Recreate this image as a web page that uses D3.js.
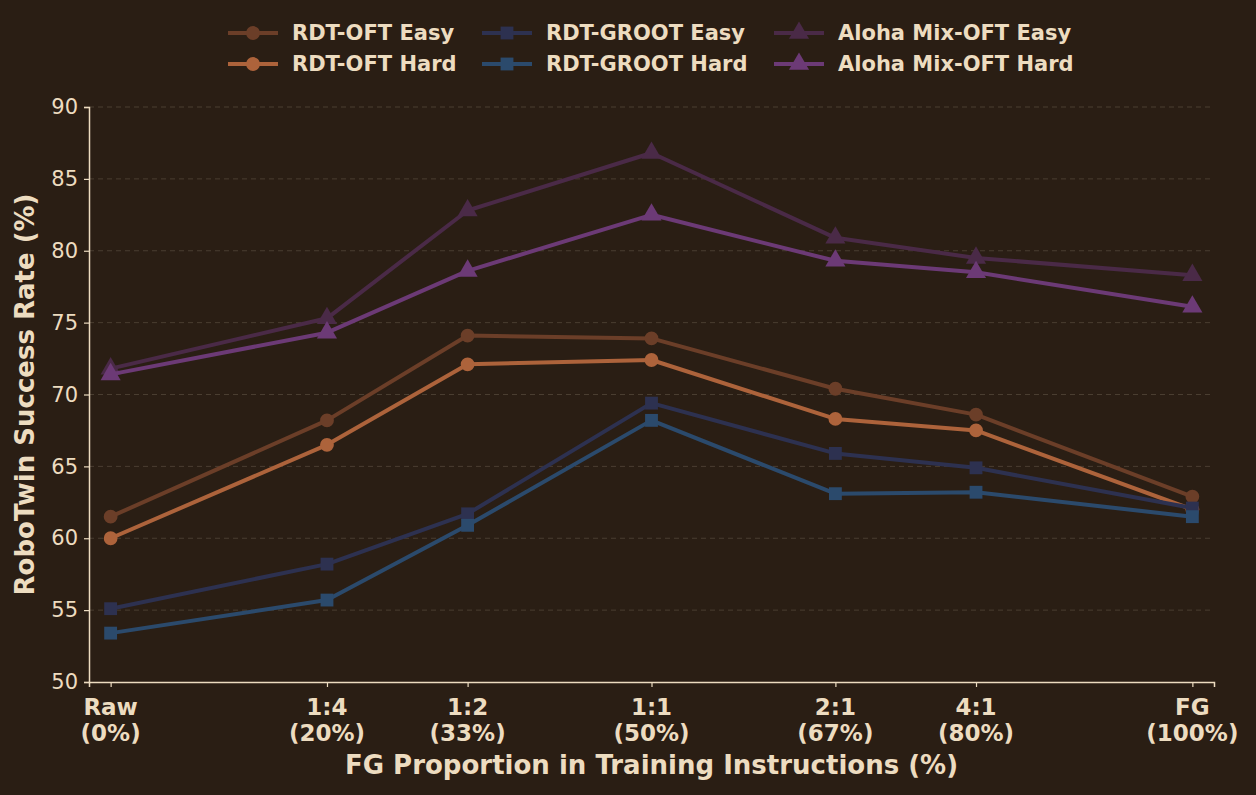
<!DOCTYPE html>
<html>
<head>
<meta charset="utf-8">
<script src="https://cdn.jsdelivr.net/npm/d3@7"></script>
<style>
  body { margin: 0; background: #2a1e14; }
  svg { display: block; font-family: "DejaVu Sans", sans-serif; }
</style>
</head>
<body>
<div id="chart"></div>
<script>
// x positions (FG share in %) and their tick labels
const proportions = [0, 20, 33, 50, 67, 80, 100];
const tickTop = ["Raw", "1:4", "1:2", "1:1", "2:1", "4:1", "FG"];
const tickBottom = ["(0%)", "(20%)", "(33%)", "(50%)", "(67%)", "(80%)", "(100%)"];
const yTicks = [50, 55, 60, 65, 70, 75, 80, 85, 90];

const seriesNames = ["RDT-OFT Easy", "RDT-OFT Hard", "RDT-GROOT Easy", "RDT-GROOT Hard", "Aloha Mix-OFT Easy", "Aloha Mix-OFT Hard"];
const rdtOftEasy = [61.5, 68.2, 74.1, 73.9, 70.4, 68.6, 62.9];
const rdtOftHard = [60.0, 66.5, 72.1, 72.4, 68.3, 67.5, 62.0];
const rdtGrootEasy = [55.1, 58.2, 61.7, 69.4, 65.9, 64.9, 62.1];
const rdtGrootHard = [53.4, 55.7, 60.9, 68.2, 63.1, 63.2, 61.5];
const alohaEasy = [71.8, 75.3, 82.8, 86.8, 80.9, 79.5, 78.3];
const alohaHard = [71.4, 74.3, 78.6, 82.5, 79.3, 78.5, 76.1];

const seriesValues = [rdtOftEasy, rdtOftHard, rdtGrootEasy, rdtGrootHard, alohaEasy, alohaHard];
const colors = ["#6b3e28", "#ad633b", "#2d3150", "#2b4a6c", "#4a2a47", "#6c3a76"];
const symbols = [d3.symbolCircle, d3.symbolCircle, d3.symbolSquare, d3.symbolSquare, d3.symbolTriangle, d3.symbolTriangle];
const markerSize = { circle: 150, square: 165, triangle: 175 };

const W = 1256, H = 795;
const margin = { top: 107, right: 42, bottom: 113, left: 89 };
const textColor = "#eddcc0";

const svg = d3.select("#chart").append("svg")
    .attr("width", W)
    .attr("height", H);

svg.append("rect").attr("width", W).attr("height", H).attr("fill", "#2a1e14");

const x = d3.scaleLinear().domain([-2, 102]).range([margin.left, W - margin.right]);
const y = d3.scaleLinear().domain([50, 90]).range([H - margin.bottom, margin.top]);

function sizeOf(sym) {
    if (sym === d3.symbolTriangle) return markerSize.triangle;
    if (sym === d3.symbolSquare) return markerSize.square;
    return markerSize.circle;
}

// grid
svg.append("g")
    .selectAll("line")
    .data(yTicks.slice(1))
    .join("line")
    .attr("x1", margin.left)
    .attr("x2", W - margin.right)
    .attr("y1", d => y(d))
    .attr("y2", d => y(d))
    .attr("stroke", "#4a3e31")
    .attr("stroke-width", 1)
    .attr("stroke-dasharray", "5,4");

// y axis
const yAxis = svg.append("g")
    .attr("transform", "translate(" + margin.left + ",0)")
    .call(d3.axisLeft(y).tickValues(yTicks).tickSize(5).tickPadding(6));
yAxis.select(".domain").attr("stroke", textColor).attr("stroke-width", 1.5);
yAxis.selectAll(".tick line").attr("stroke", textColor).attr("stroke-width", 1.2);
yAxis.selectAll(".tick text")
    .attr("fill", textColor)
    .style("font-size", "21px")
    .style("font-family", "DejaVu Sans");

// x axis
const xAxis = svg.append("g")
    .attr("transform", "translate(0," + (H - margin.bottom) + ")")
    .call(d3.axisBottom(x).tickValues(proportions).tickSize(5).tickFormat(""));
xAxis.select(".domain").attr("stroke", textColor).attr("stroke-width", 1.5);
xAxis.selectAll(".tick line").attr("stroke", textColor).attr("stroke-width", 1.2);

const xLabels = svg.append("g");
proportions.forEach((p, i) => {
    const t = xLabels.append("text")
        .attr("x", x(p))
        .attr("y", H - margin.bottom + 33)
        .attr("text-anchor", "middle")
        .attr("fill", textColor)
        .style("font-size", "23px")
        .style("font-weight", "bold");
    t.append("tspan").attr("x", x(p)).text(tickTop[i]);
    t.append("tspan").attr("x", x(p)).attr("dy", 26).text(tickBottom[i]);
});

// axis titles
svg.append("text")
    .attr("x", (margin.left + W - margin.right) / 2)
    .attr("y", 774)
    .attr("text-anchor", "middle")
    .attr("fill", textColor)
    .style("font-size", "26px")
    .style("font-weight", "bold")
    .text("FG Proportion in Training Instructions (%)");

svg.append("text")
    .attr("transform", "translate(34," + ((margin.top + H - margin.bottom) / 2) + ") rotate(-90)")
    .attr("text-anchor", "middle")
    .attr("fill", textColor)
    .style("font-size", "26px")
    .style("font-weight", "bold")
    .text("RoboTwin Success Rate (%)");

// lines and markers
const line = d3.line()
    .x((d, i) => x(proportions[i]))
    .y(d => y(d));

seriesValues.forEach((vals, s) => {
    svg.append("path")
        .datum(vals)
        .attr("fill", "none")
        .attr("stroke", colors[s])
        .attr("stroke-width", 4)
        .attr("stroke-linejoin", "round")
        .attr("d", line);

    svg.append("g")
        .selectAll("path")
        .data(vals)
        .join("path")
        .attr("transform", (d, i) => "translate(" + x(proportions[i]) + "," + y(d) + ")")
        .attr("d", d3.symbol().type(symbols[s]).size(sizeOf(symbols[s])))
        .attr("fill", colors[s]);
});

// legend
const legendCols = [228, 482, 774];
const legendRows = [33, 64];
seriesNames.forEach((name, s) => {
    const col = Math.floor(s / 2), row = s % 2;
    const g = svg.append("g")
        .attr("transform", "translate(" + legendCols[col] + "," + legendRows[row] + ")");
    g.append("line")
        .attr("x1", 0).attr("x2", 50)
        .attr("stroke", colors[s])
        .attr("stroke-width", 4);
    g.append("path")
        .attr("transform", "translate(25,0)")
        .attr("d", d3.symbol().type(symbols[s]).size(sizeOf(symbols[s])))
        .attr("fill", colors[s]);
    g.append("text")
        .attr("x", 64)
        .attr("dy", "0.35em")
        .attr("fill", textColor)
        .style("font-size", "21px")
        .style("font-weight", "bold")
        .text(name);
});
</script>
</body>
</html>
